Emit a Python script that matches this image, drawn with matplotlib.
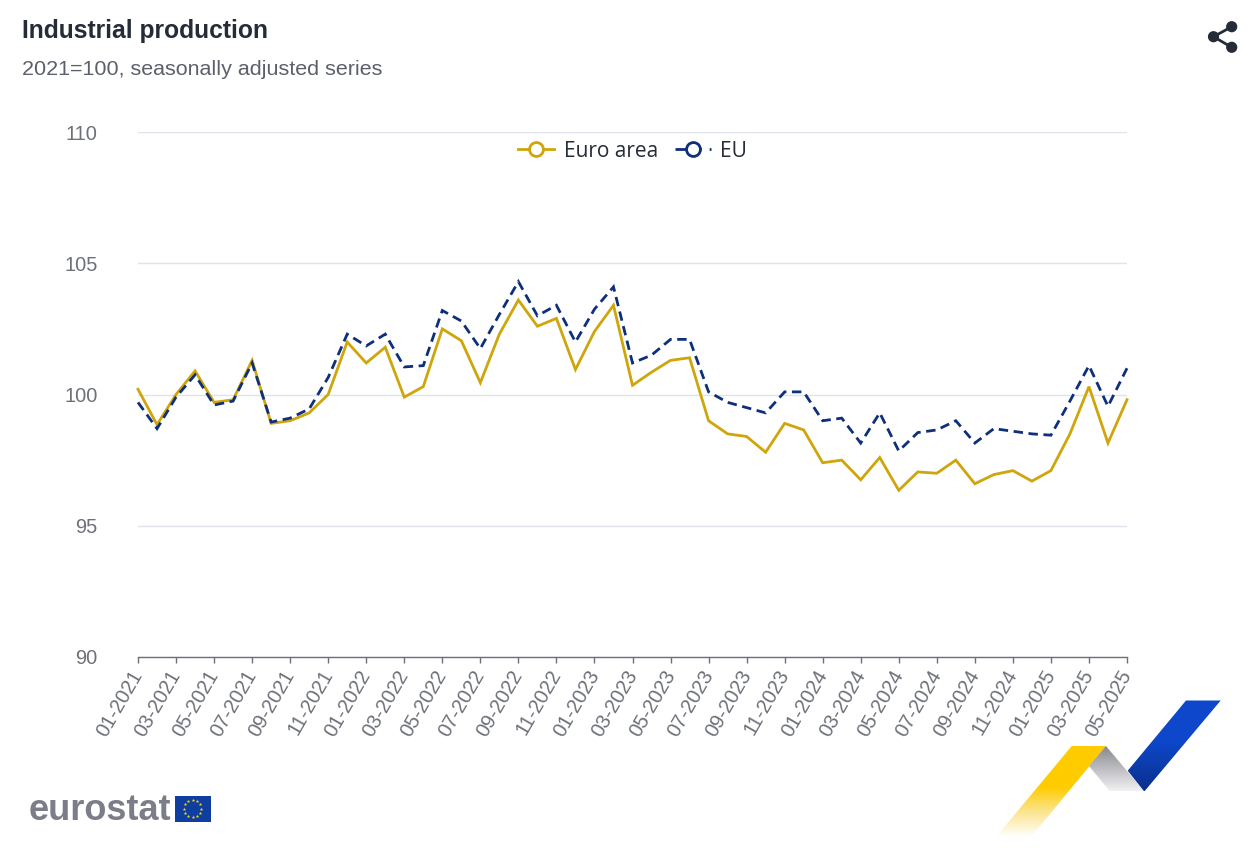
import numpy as np
import matplotlib
matplotlib.use("Agg")
import matplotlib.pyplot as plt
from matplotlib.lines import Line2D
from matplotlib.patches import Polygon, Circle, Rectangle
from matplotlib.colors import LinearSegmentedColormap
from matplotlib.transforms import ScaledTranslation

# Werte, 01-2021 bis 05-2025
euro_area = [100.2, 98.85, 100.0, 100.9, 99.7, 99.8, 101.3, 98.9, 99.0, 99.3, 100.0, 102.0,
             101.2, 101.8, 99.9, 100.3, 102.5, 102.05, 100.45, 102.3, 103.6, 102.6, 102.9, 100.95,
             102.4, 103.4, 100.35, 100.85, 101.3, 101.4, 99.0, 98.5, 98.4, 97.8, 98.9, 98.65,
             97.4, 97.5, 96.75, 97.6, 96.35, 97.05, 97.0, 97.5, 96.6, 96.95, 97.1, 96.7,
             97.1, 98.5, 100.3, 98.15, 99.8]
eu = [99.7, 98.7, 99.9, 100.75, 99.6, 99.75, 101.2, 98.95, 99.1, 99.45, 100.65, 102.3,
      101.85, 102.3, 101.05, 101.1, 103.2, 102.8, 101.75, 103.05, 104.3, 103.0, 103.4, 102.0,
      103.25, 104.1, 101.2, 101.5, 102.1, 102.1, 100.1, 99.7, 99.5, 99.3, 100.1, 100.1,
      99.0, 99.1, 98.15, 99.3, 97.85, 98.55, 98.65, 99.0, 98.15, 98.7, 98.6, 98.5,
      98.45, 99.75, 101.1, 99.55, 101.0]
tick_labels = ["01-2021", "03-2021", "05-2021", "07-2021", "09-2021", "11-2021",
               "01-2022", "03-2022", "05-2022", "07-2022", "09-2022", "11-2022",
               "01-2023", "03-2023", "05-2023", "07-2023", "09-2023", "11-2023",
               "01-2024", "03-2024", "05-2024", "07-2024", "09-2024", "11-2024",
               "01-2025", "03-2025", "05-2025"]
y_ticks = [90, 95, 100, 105, 110]

GOLD = "#CFA50A"
NAVY = "#0E2F7A"
GRID = "#E0E3EE"
AXIS = "#6E7079"
DARK = "#262B38"
W, H = 1248, 848

plt.rcParams["font.family"] = ["Liberation Sans", "DejaVu Sans"]

fig = plt.figure(figsize=(W / 100, H / 100), dpi=100, facecolor="white")
ax = fig.add_axes([138 / W, 1 - 657 / H, (1127 - 138) / W, (657 - 132) / H])

x = np.arange(len(euro_area))
ax.plot(x, euro_area, color=GOLD, lw=2.0, zorder=3, solid_joinstyle="miter", clip_on=False)
ax.plot(x, eu, color=NAVY, lw=2.0, dashes=(3.4, 2.0), zorder=4, dash_joinstyle="miter", clip_on=False)

ax.set_xlim(0, len(euro_area) - 1)
ax.set_ylim(90, 110)
ax.set_yticks(y_ticks)
ax.set_xticks(x[::2])
ax.set_xticklabels(tick_labels, rotation=60, ha="right", va="top", rotation_mode="anchor",
                   fontsize=14.4, color=AXIS)
ax.tick_params(axis="x", length=4, width=1, color=AXIS, pad=5)
ax.tick_params(axis="y", length=0, pad=29, labelsize=14.4, labelcolor=AXIS)
ax.grid(axis="y", color=GRID, lw=1)
ax.set_axisbelow(True)
for name in ["top", "left", "right"]:
    ax.spines[name].set_visible(False)
ax.spines["bottom"].set_color(AXIS)
ax.spines["bottom"].set_linewidth(1)

# Beschriftung etwas nach links oben
shift = ScaledTranslation(-0.08, 0.03, fig.dpi_scale_trans)
for lab in ax.get_xticklabels():
    lab.set_transform(lab.get_transform() + shift)

handles = [
    Line2D([], [], color=GOLD, lw=2, marker="o", ms=10, mfc="white", mew=2),
    Line2D([], [], color=NAVY, lw=2, marker="o", ms=10, mfc="white", mew=2, dashes=(9.4, 2.9, 1.1, 3)),
]
ax.legend(handles, ["Euro area", "EU"], ncol=2, loc="upper center", bbox_to_anchor=(0.5, 1 + 7 / 525),
          frameon=False, prop={"family": "Open Sans", "size": 15}, labelcolor=DARK,
          handlelength=1.75, handletextpad=0.45, columnspacing=0.8, borderpad=0.25)

fig.text(22 / W, 1 - 38 / H, "Industrial production", fontsize=17.7, fontweight="bold", color=DARK)
fig.text(22 / W, 1 - 75 / H, "2021=100, seasonally adjusted series", fontsize=15.45, color="#5C606C")

# Logo, Band und Teilen-Symbol in Pixelkoordinaten
deco = fig.add_axes([0, 0, 1, 1], zorder=5)
deco.set_xlim(0, W)
deco.set_ylim(H, 0)
deco.axis("off")
deco.patch.set_alpha(0)


def ribbon(points, stops):
    pts = np.array(points)
    cmap = LinearSegmentedColormap.from_list("r", stops)
    grad = np.linspace(0, 1, 256).reshape(-1, 1)
    extent = [pts[:, 0].min(), pts[:, 0].max(), pts[:, 1].max(), pts[:, 1].min()]
    im = deco.imshow(grad, cmap=cmap, extent=extent, aspect="auto", origin="upper", vmin=0, vmax=1)
    poly = Polygon(pts, closed=True, transform=deco.transData, fc="none", ec="none")
    deco.add_patch(poly)
    im.set_clip_path(poly)


ribbon([(1071.7, 746), (1106, 746), (1031, 837), (996, 837)],
       [(0, "#FFCC00"), (0.45, "#FFCC00"), (0.72, "#FBE48E"), (1, "#FFFFFF")])
ribbon([(1106, 746), (1144.3, 791.5), (1110, 791.5), (1089, 766)],
       [(0, "#85868C"), (1, "#F2F2F4")])
ribbon([(1186, 700.5), (1220.7, 700.5), (1144.3, 791.5), (1127.7, 770.7)],
       [(0, "#0E47CB"), (0.45, "#0E47CB"), (1, "#0A2F8C")])
deco.set_xlim(0, W)
deco.set_ylim(H, 0)

deco.text(29, 820.5, "eurostat", fontsize=26, fontweight="bold", color="#7B7D88", va="baseline")
deco.add_patch(Rectangle((174.5, 796), 36, 25.5, fc="#0E3FA0", ec="none"))
ang = np.linspace(0, 2 * np.pi, 12, endpoint=False)
deco.scatter(192.5 + 8.5 * np.cos(ang), 808.7 + 8.5 * np.sin(ang), marker="*", s=7,
             color="#FFD617", linewidths=0)

for cx, cy in [(1213.5, 36.7), (1231.7, 26.7), (1231.7, 47.3)]:
    deco.add_patch(Circle((cx, cy), 5.6, fc=DARK, ec="none"))
    deco.plot([1213.5, cx], [36.7, cy], color=DARK, lw=2)

fig.savefig("out.png", dpi=100, facecolor="white")
